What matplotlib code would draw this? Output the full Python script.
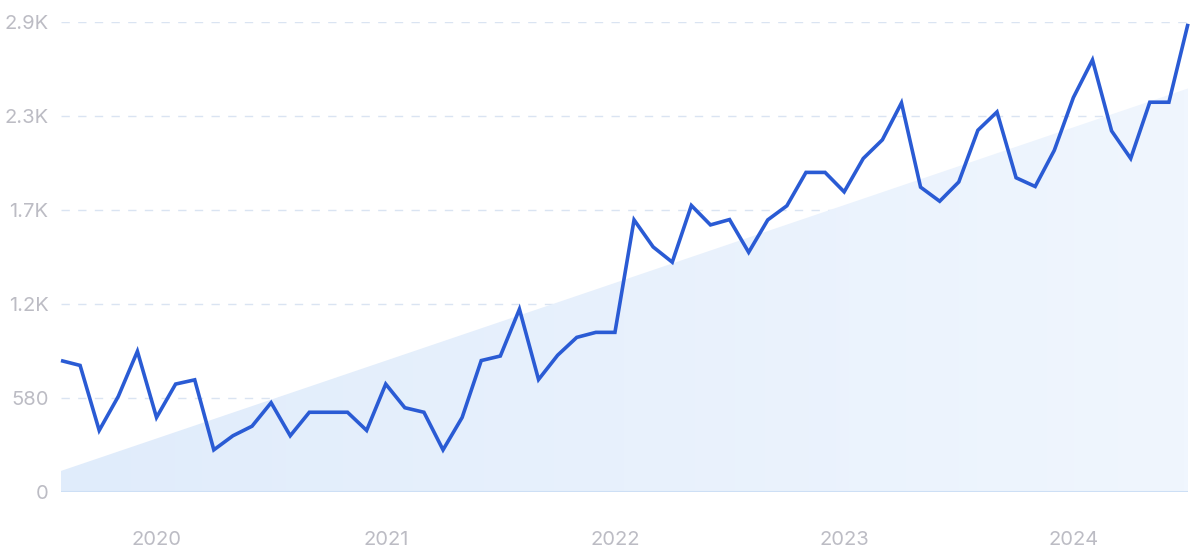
import numpy as np
import pandas as pd
import matplotlib
matplotlib.use('Agg')
import matplotlib.pyplot as plt
from matplotlib.ticker import FixedLocator, FixedFormatter

# monthly values, Aug 2019 .. Jul 2024
months = pd.period_range('2019-08', '2024-07', freq='M')
values = [811, 781, 380, 590, 868, 460, 666, 692, 260, 347,
          406, 551, 347, 492, 492, 492, 380, 666, 520, 492,
          260, 460, 811, 839, 1128, 694, 844, 954, 985, 985,
          1679, 1512, 1418, 1768, 1648, 1681, 1479, 1679, 1766, 1972,
          1972, 1852, 2058, 2173, 2401, 1881, 1794, 1913, 2232, 2345,
          1939, 1885, 2108, 2434, 2666, 2228, 2058, 2405, 2405, 2889]
trend_ends = [130, 2490]
y_ticks = [0, 580, 1160, 1740, 2320, 2900]
y_labels = ['0', '580', '1.2K', '1.7K', '2.3K', '2.9K']
years = [2020, 2021, 2022, 2023, 2024]

plt.rcParams['font.family'] = ['Inter', 'DejaVu Sans']

x = np.arange(len(months))
x_year = [list(months).index(pd.Period(f'{yr}-01', freq='M')) for yr in years]

fig = plt.figure(figsize=(12, 5.53), dpi=100)
ax = fig.add_axes([61 / 1200, 61 / 553, 1127 / 1200, 470 / 553])

# trend area with a soft left-to-right gradient
tx = [x[0], x[-1]]
poly = ax.fill_between(tx, [0, 0], trend_ends, color='none', lw=0)
grad = np.linspace(0, 1, 256).reshape(1, -1)
cmap = matplotlib.colors.LinearSegmentedColormap.from_list('tr', ['#e0ecfb', '#f0f6fe'])
img = ax.imshow(grad, cmap=cmap, aspect='auto', extent=[x[0], x[-1], 0, 2900],
                origin='lower', zorder=1)
img.set_clip_path(poly.get_paths()[0], transform=ax.transData)

for v in y_ticks[1:]:
    ax.axhline(v, color='#dae4f2', lw=1, ls=(0, (6, 6)), zorder=0)
ax.axhline(0, color='#cddff5', lw=1.5, zorder=2)

ax.plot(x, values, color='#2a5bd4', lw=2.6, solid_joinstyle='miter',
        solid_capstyle='butt', zorder=3, clip_on=False)

ax.set_xlim(x[0], x[-1])
ax.set_ylim(0, 2900)
ax.yaxis.set_major_locator(FixedLocator(y_ticks))
ax.yaxis.set_major_formatter(FixedFormatter(y_labels))
ax.xaxis.set_major_locator(FixedLocator(x_year))
ax.xaxis.set_major_formatter(FixedFormatter([str(yr) for yr in years]))
ax.tick_params(axis='both', length=0, labelsize=14.5, labelcolor='#bcbcc4')
ax.tick_params(axis='y', pad=9)
ax.tick_params(axis='x', pad=28)
for s in ax.spines.values():
    s.set_visible(False)

fig.savefig('out.png', dpi=100, facecolor='white')
